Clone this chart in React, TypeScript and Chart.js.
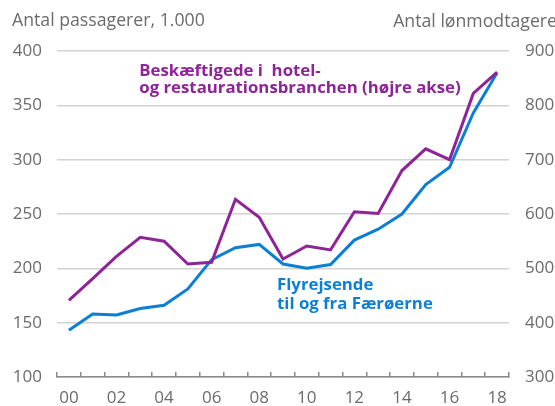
import React, { useEffect, useRef } from 'react';
import { Chart, registerables } from 'chart.js';

Chart.register(...registerables);

const years = ['00', '01', '02', '03', '04', '05', '06', '07', '08', '09', '10', '11', '12', '13', '14', '15', '16', '17', '18'];
// Flyrejsende til og fra Færøerne, 1.000 passagerer (venstre akse)
const flyrejsende = [143, 158, 157, 163, 166, 181, 208, 219, 222, 204, 200, 203.5, 226, 236, 250, 277, 293, 343, 380];
// Beskæftigede i hotel- og restaurationsbranchen, antal lønmodtagere (højre akse)
const beskaeftigede = [441, 481, 522, 557, 550, 508, 511, 627, 594, 517, 541, 534, 604, 601, 680, 720, 700, 822, 861];

const leftAxis = { min: 100, max: 400, step: 50 };
const rightAxis = { min: 300, max: 900, step: 100 };

const leftTitle = 'Antal passagerer, 1.000';
const rightTitle = 'Antal lønmodtagere';
const purpleLabel = ['Beskæftigede i  hotel-', 'og restaurationsbranchen (højre akse)'];
const blueLabel = ['Flyrejsende', 'til og fra Færøerne'];

const PURPLE = '#8E2497';
const BLUE = '#0B7FD6';
const TEXT = '#6b6b6b';
const FONT = '"Open Sans", "Noto Sans", sans-serif';

const textPlugin = {
  id: 'textPlugin',
  afterDatasetsDraw(chart: any) {
    const { ctx, scales } = chart;
    const x = scales.x;
    const y = scales.y;
    ctx.save();
    // axis titles
    ctx.fillStyle = TEXT;
    ctx.font = `17.7px ${FONT}`;
    ctx.textBaseline = 'alphabetic';
    ctx.textAlign = 'left';
    ctx.fillText(leftTitle, 12, 26);
    ctx.textAlign = 'right';
    ctx.fillText(rightTitle, chart.width + 2, 27);

    // series labels
    ctx.font = `bold 16.8px ${FONT}`;
    ctx.textAlign = 'left';
    ctx.fillStyle = PURPLE;
    const px = x.getPixelForValue(3) - 1;
    ctx.fillText(purpleLabel[0], px, y.getPixelForValue(377));
    ctx.fillText(purpleLabel[1], px, y.getPixelForValue(361));
    ctx.fillStyle = BLUE;
    const bx = x.getPixelForValue(9) - 6;
    ctx.fillText(blueLabel[0], bx, y.getPixelForValue(180));
    ctx.fillText(blueLabel[1], bx, y.getPixelForValue(162.5));
    ctx.restore();
  },
};

export default function App() {
  const ref = useRef<HTMLCanvasElement | null>(null);

  useEffect(() => {
    if (!ref.current) return;
    const chart = new Chart(ref.current, {
      type: 'line',
      data: {
        labels: years,
        datasets: [
          {
            label: 'Beskæftigede',
            data: beskaeftigede,
            yAxisID: 'y1',
            borderColor: PURPLE,
            borderWidth: 3,
            pointRadius: 0,
            tension: 0,
            fill: false,
          },
          {
            label: 'Flyrejsende',
            data: flyrejsende,
            yAxisID: 'y',
            borderColor: BLUE,
            borderWidth: 3,
            pointRadius: 0,
            tension: 0,
            fill: false,
          },
        ],
      },
      options: {
        responsive: false,
        animation: false,
        layout: { padding: { top: 51, left: 0, right: 0, bottom: 0 } },
        plugins: { legend: { display: false }, tooltip: { enabled: false }, title: { display: false } },
        scales: {
          x: {
            offset: true,
            grid: {
              offset: true,
              drawOnChartArea: false,
              drawTicks: true,
              tickLength: -5,
              color: '#8a8a8a',
              lineWidth: 1.5,
            },
            border: { display: true, color: '#8a8a8a', width: 1.5 },
            ticks: {
              autoSkip: false,
              maxRotation: 0,
              padding: 16,
              color: TEXT,
              font: { family: FONT, size: 17 },
              callback: (_v: any, i: number) => (i % 2 === 0 ? years[i] : ''),
            },
            afterFit: (s: any) => {
              s.height = 29;
            },
          },
          y: {
            position: 'left',
            min: leftAxis.min,
            max: leftAxis.max,
            ticks: { stepSize: leftAxis.step, padding: 15, color: TEXT, font: { family: FONT, size: 17 } },
            grid: { color: '#d2d2d2', lineWidth: 1.5, drawTicks: false },
            border: { display: false },
            afterFit: (s: any) => {
              s.width = 57;
            },
          },
          y1: {
            position: 'right',
            min: rightAxis.min,
            max: rightAxis.max,
            ticks: { stepSize: rightAxis.step, padding: 16, color: TEXT, font: { family: FONT, size: 17 } },
            grid: { drawOnChartArea: false, drawTicks: false },
            border: { display: false },
            afterFit: (s: any) => {
              s.width = 46;
            },
          },
        },
      },
      plugins: [textPlugin],
    });
    return () => chart.destroy();
  }, []);

  return (
    <div style={{ position: 'absolute', left: 0, top: 0, width: 555, height: 406, background: '#fff' }}>
      <canvas ref={ref} width={555} height={406} />
    </div>
  );
}
